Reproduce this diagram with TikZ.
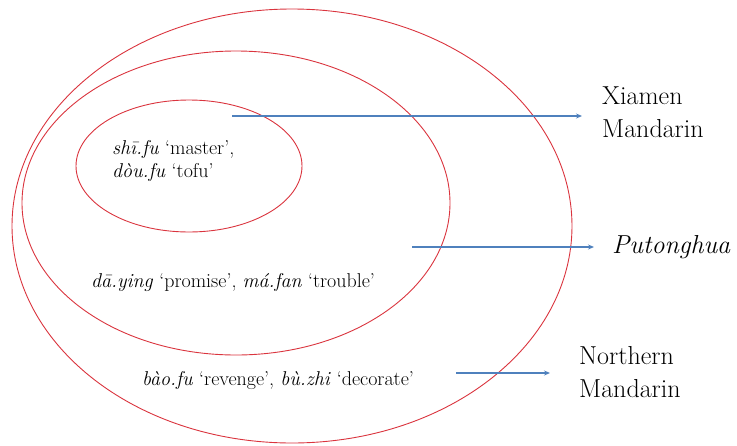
\documentclass[tikz,border=0pt]{standalone}
\usepackage{fontspec}
\usetikzlibrary{arrows.meta}
\definecolor{ringred}{RGB}{218,52,62}
\definecolor{arrowblue}{RGB}{79,129,189}
\tikzset{
  ring/.style={draw=ringred, line width=0.9pt},
  pointer/.style={draw=arrowblue, line width=1.6pt, -{Stealth[length=6pt,width=5pt]}},
  wordtext/.style={font=\fontsize{20}{23}\selectfont, inner sep=0pt, align=left},
  vartext/.style={font=\fontsize{26}{33}\selectfont, inner sep=0pt, align=left, anchor=west}
}
\begin{document}
\begin{tikzpicture}[x=1pt, y=-1pt]
\useasboundingbox (0,0) rectangle (737,445);
% ellipses
\draw[ring] (292,226) ellipse [x radius=280, y radius=217];
\draw[ring] (236,203) ellipse [x radius=214, y radius=152];
\draw[ring] (189,166) ellipse [x radius=113, y radius=66];
% texts
\node[wordtext, anchor=west] (inner) at (112,161) {\textit{shī.fu} ‘master’,\\\textit{dòu.fu} ‘tofu’};
\node[wordtext, anchor=west] (mid) at (91,282) {\textit{dā.ying} ‘promise’, \textit{má.fan} ‘trouble’};
\node[wordtext, anchor=west] (outer) at (142,380) {\textit{bào.fu} ‘revenge’, \textit{bù.zhi} ‘decorate’};
% labels
\node[vartext] (xiamen) at (602,112) {Xiamen\\Mandarin};
\node[vartext] (putong) at (612,247) {\textit{Putonghua}};
\node[vartext] (northern) at (579,372) {Northern\\Mandarin};
% arrows
\coordinate (s1) at (232,116);
\coordinate (e1) at (582,116);
\coordinate (s2) at (412,247);
\coordinate (e2) at (594,247);
\coordinate (s3) at (456,373);
\coordinate (e3) at (550,373);
\draw[pointer] (s1) -- (e1);
\draw[pointer] (s2) -- (e2);
\draw[pointer] (s3) -- (e3);
\end{tikzpicture}
\end{document}
